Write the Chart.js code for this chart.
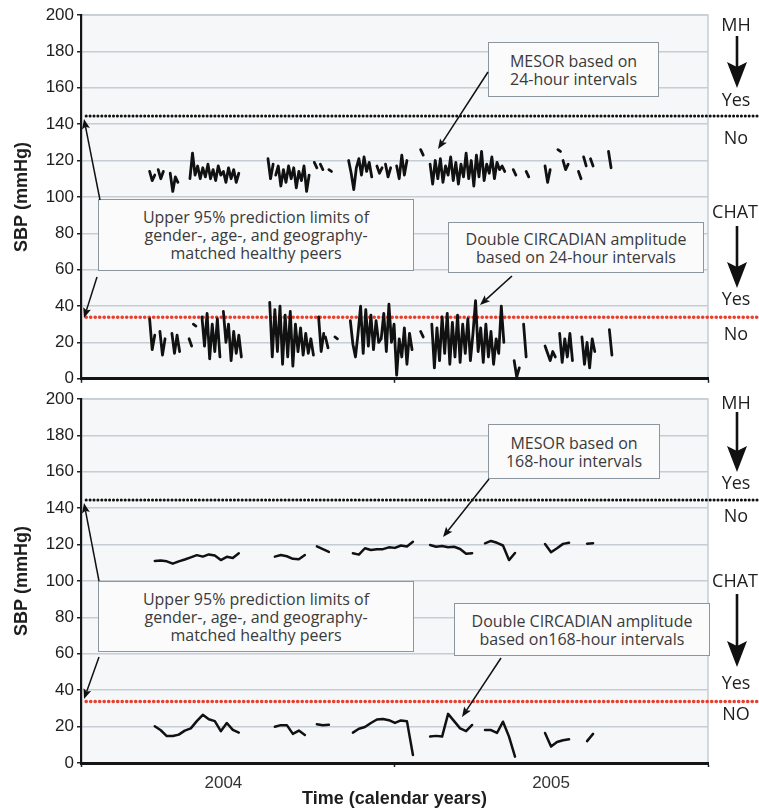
<!DOCTYPE html>
<html>
<head>
<meta charset="utf-8">
<title>SBP MESOR and circadian amplitude</title>
<script src="https://cdn.jsdelivr.net/npm/chart.js@4.4.1/dist/chart.umd.min.js"></script>
<style>
  body { margin: 0; background: #fff; font-family: "Open Sans", sans-serif; }
  #wrap { position: relative; width: 759px; height: 811px; overflow: hidden; }
  canvas { position: absolute; left: 0; }
  #topChart { top: 0; }
  #bottomChart { top: 385px; }
  .box { position: absolute; box-sizing: border-box; border: 1.5px solid #8b969f; background: #fbfbfb;
         color: #3a3a3a; font-size: 16px; line-height: 18px; text-align: center;
         display: flex; flex-direction: column; justify-content: center; }
  .tag { position: absolute; color: #1e1e1e; font-size: 18px; line-height: 1;
         transform: translate(-50%, -50%); white-space: nowrap; }
  #arrows { position: absolute; left: 0; top: 0; }
</style>
</head>
<body>
<div id="wrap">
  <canvas id="topChart" width="759" height="392"></canvas>
  <canvas id="bottomChart" width="759" height="426"></canvas>

  <div class="box" style="left:488px;top:42px;width:171px;height:55px">MESOR based on<br>24-hour intervals</div>
  <div class="box" style="left:98px;top:199px;width:316px;height:72px">Upper 95% prediction limits of<br>gender-, age-, and geography-<br>matched healthy peers</div>
  <div class="box" style="left:448px;top:222px;width:256px;height:51px">Double CIRCADIAN amplitude<br>based on 24-hour intervals</div>
  <div class="box" style="left:488px;top:424px;width:172px;height:55px">MESOR based on<br>168-hour intervals</div>
  <div class="box" style="left:98px;top:581px;width:316px;height:71px">Upper 95% prediction limits of<br>gender-, age-, and geography-<br>matched healthy peers</div>
  <div class="box" style="left:454px;top:603px;width:256px;height:53px">Double CIRCADIAN amplitude<br>based on168-hour intervals</div>

  <div class="tag" style="left:736px;top:24px">MH</div>
  <div class="tag" style="left:736px;top:99px">Yes</div>
  <div class="tag" style="left:736px;top:137px">No</div>
  <div class="tag" style="left:735px;top:211px">CHAT</div>
  <div class="tag" style="left:736px;top:298px">Yes</div>
  <div class="tag" style="left:736px;top:333px">No</div>
  <div class="tag" style="left:736px;top:402px">MH</div>
  <div class="tag" style="left:736px;top:482px">Yes</div>
  <div class="tag" style="left:736px;top:515px">No</div>
  <div class="tag" style="left:735px;top:580px">CHAT</div>
  <div class="tag" style="left:736px;top:682px">Yes</div>
  <div class="tag" style="left:736px;top:713px">NO</div>

  <svg id="arrows" width="759" height="811"></svg>
</div>
<script>
// x values are days counted from 1 Jan 2004 (2004 has 366 days)
const yearTicks = [166, 548];
const yearLabels = ["2004", "2005"];
const yearBounds = [0, 366, 731];

// upper 95% prediction limits (mmHg)
const mhLimit = 144.5;
const chatLimit = 33.8;
const limitSpan = [6, 790];

// 24-hour MESOR, sampled every 3 days: [first day, values]
const mesor24Runs = [
  [80, [114, 109, 112]],
  [90, [115, 110, 114]],
  [104, [113, 103, 111, 108]],
  [127, [110, 124, 112, 117, 110, 116, 111, 118, 110, 115, 109, 117, 112, 114, 108, 116, 110, 115, 108, 113]],
  [218, [121, 110, 118]],
  [227, [112, 117, 106, 115, 108, 117, 110, 116, 105, 114, 109, 117, 103, 112]],
  [272, [119, 116]],
  [279, [118, 115]],
  [289, [115, 114]],
  [312, [120, 113, 104, 116, 121, 112, 122, 114, 119, 111]],
  [345, [117, 113, 116]],
  [355, [118, 111, 116]],
  [368, [117, 110, 123, 112, 120]],
  [396, [126, 123]],
  [407, [118, 107, 120, 110, 121, 108, 117, 112, 122, 109, 119, 107, 118, 111, 124, 110, 120, 106, 123, 111, 125, 109, 118, 113, 122, 110, 119, 115, 117, 114]],
  [504, [115, 112]],
  [519, [114, 111]],
  [541, [117, 108, 115]],
  [556, [126, 125]],
  [562, [120, 115, 118]],
  [580, [114, 110]],
  [586, [122, 117]],
  [594, [121, 117]],
  [615, [125, 116]]
];

// 24-hour double circadian amplitude, every 3 days
const amp24Runs = [
  [80, [33, 16, 24]],
  [92, [26, 13, 22]],
  [106, [25, 14, 24, 15]],
  [126, [22, 18]],
  [131, [30, 29]],
  [141, [34, 18, 36, 11, 30, 15, 33, 12]],
  [166, [37, 20, 30, 10, 26, 14, 24, 12]],
  [220, [42, 12, 38, 15, 40, 8, 35, 12, 37, 7, 30, 15, 28, 13, 25, 14, 22, 13]],
  [277, [34, 15, 25]],
  [285, [23, 17]],
  [296, [23, 22]],
  [314, [32, 19, 12, 25, 40, 14, 38, 18, 35, 16, 32, 20, 22, 36, 15, 41, 20, 30, 2, 22, 12, 28, 8, 25, 16]],
  [396, [26, 23]],
  [409, [30, 6, 28, 10, 34, 14, 36, 8, 31, 12, 35, 9, 30, 14, 33, 10, 25, 43, 15, 28, 9, 30, 12, 26, 8, 22, 14, 40, 20]],
  [505, [10, 1, 6]],
  [516, [30, 12]],
  [541, [18, 14, 10, 15, 12]],
  [558, [25, 9, 22, 12, 25, 10]],
  [584, [23, 8, 20, 6, 22, 15]],
  [616, [27, 13]]
];

// 168-hour MESOR, weekly
const mesor168Runs = [
  [86, [111, 111.3, 110.8, 109.5, 110.8, 111.8, 113, 114.2, 113.4, 114.6, 114, 111.5, 113.3, 112.6, 115.2]],
  [226, [113.4, 114.3, 113.6, 112.2, 112, 114.3]],
  [275, [119, 117.5, 116]],
  [317, [115.2, 114.5, 118, 117, 117.5, 117.5, 118.5, 118.2, 119.5, 119, 121.5]],
  [407, [119.8, 118.8, 119.2, 118.5, 118.8, 117.6, 115, 115.3]],
  [471, [120.7, 122, 121, 119.5, 111.5, 115.4]],
  [541, [120.3, 115.8, 118, 120.4, 121]],
  [590, [120.5, 120.8]]
];

// 168-hour double circadian amplitude, weekly
const amp168Runs = [
  [86, [20.2, 18, 14.8, 14.8, 15.6, 17.8, 19, 23, 26.5, 24, 23, 17.5, 22, 18.2, 16.7]],
  [226, [19.9, 20.8, 20.8, 16, 17.8, 15.4]],
  [275, [21.3, 20.8, 21]],
  [317, [16.7, 18.8, 19.8, 22, 23.9, 24.2, 23.5, 22, 23.4, 23, 4.4]],
  [407, [14.5, 14.9, 14.5, 27, 23, 19, 17.5, 20.9]],
  [471, [18.1, 18.1, 16.5, 22.7, 14.5, 3.5]],
  [541, [16.5, 9, 11.5, 12.5, 13]],
  [590, [12, 16]]
];

function fromRuns(runs, step) {
  const pts = [];
  runs.forEach(([start, vals]) => {
    vals.forEach((v, i) => pts.push({ x: start + i * step, y: v }));
    pts.push({ x: start + vals.length * step - step / 2, y: null });
  });
  return pts;
}

function seriesLine(points, width) {
  return {
    data: points,
    borderColor: "#111",
    borderWidth: width,
    pointRadius: 0,
    spanGaps: false,
    tension: 0,
    borderJoinStyle: "round",
    borderCapStyle: "round",
  };
}

function limitLine(value, color, width, gap) {
  return {
    data: limitSpan.map((d) => ({ x: d, y: value })),
    borderColor: color,
    borderWidth: width,
    borderDash: [0.1, gap],
    borderCapStyle: "round",
    pointRadius: 0,
    clip: false,
  };
}

const plotFrame = {
  id: "plotFrame",
  beforeDraw(chart) {
    const { ctx, chartArea: a } = chart;
    ctx.save();
    ctx.fillStyle = "#f6f7f8";
    ctx.fillRect(a.left, a.top, a.right - a.left, a.bottom - a.top);
    ctx.strokeStyle = "#c6cdd4";
    ctx.lineWidth = 1.5;
    ctx.beginPath();
    ctx.moveTo(a.left, a.top);
    ctx.lineTo(a.right, a.top);
    ctx.lineTo(a.right, a.bottom);
    ctx.stroke();
    ctx.restore();
  },
};

function makeChart(id, datasets, showYears, xHeight, padTop) {
  const ctx = document.getElementById(id).getContext("2d");
  return new Chart(ctx, {
    type: "line",
    data: { datasets: datasets },
    plugins: [plotFrame],
    options: {
      responsive: false,
      animation: false,
      events: [],
      layout: { padding: { left: 0, right: 51, top: padTop, bottom: 0 } },
      plugins: { legend: { display: false }, tooltip: { enabled: false } },
      scales: {
        x: {
          type: "linear",
          min: 0,
          max: 731,
          afterBuildTicks: (s) => {
            s.ticks = yearBounds.concat(yearTicks).sort((a, b) => a - b).map((v) => ({ value: v }));
          },
          afterFit: (s) => { s.height = xHeight; },
          ticks: {
            autoSkip: false,
            maxRotation: 0,
            padding: 6,
            color: "#333",
            font: { size: 17 },
            callback: (v) => (showYears && yearTicks.includes(v) ? yearLabels[yearTicks.indexOf(v)] : ""),
          },
          grid: {
            drawOnChartArea: false,
            tickLength: 4,
            tickWidth: 1.5,
            tickColor: (c) => (c.tick && yearTicks.includes(c.tick.value) ? "rgba(0,0,0,0)" : "#222"),
          },
          border: { color: "#151515", width: 3 },
          title: {
            display: showYears,
            text: "Time (calendar years)",
            color: "#1e1e1e",
            font: { size: 18, weight: "bold" },
            padding: { top: 0, bottom: 1 },
          },
        },
        y: {
          min: 0,
          max: 200,
          afterFit: (s) => { s.width = 81; },
          ticks: { stepSize: 20, padding: 3, color: "#1e1e1e", font: { size: 17 } },
          grid: {
            color: (c) => (c.tick && c.tick.value === 0 ? "rgba(0,0,0,0)" : "#c6cdd4"),
            lineWidth: 1.5,
            tickLength: 4,
            tickWidth: 1.5,
            tickColor: "#222",
          },
          border: { color: "#151515", width: 2.2 },
          title: {
            display: true,
            text: "SBP (mmHg)",
            color: "#1e1e1e",
            font: { size: 18, weight: "bold" },
            padding: { top: 11, bottom: 0 },
          },
        },
      },
    },
  });
}

function drawArrow(svg, x1, y1, x2, y2, width, head, half, notch) {
  const ns = "http://www.w3.org/2000/svg";
  const len = Math.hypot(x2 - x1, y2 - y1);
  const ux = (x2 - x1) / len, uy = (y2 - y1) / len;
  const bx = x2 - ux * head, by = y2 - uy * head;
  const nx = bx + ux * notch, ny = by + uy * notch;
  const line = document.createElementNS(ns, "line");
  line.setAttribute("x1", x1);
  line.setAttribute("y1", y1);
  line.setAttribute("x2", nx);
  line.setAttribute("y2", ny);
  line.setAttribute("stroke", "#111");
  line.setAttribute("stroke-width", width);
  svg.appendChild(line);
  const tri = document.createElementNS(ns, "polygon");
  tri.setAttribute("points", [
    [x2, y2], [bx - uy * half, by + ux * half], [nx, ny], [bx + uy * half, by - ux * half],
  ].map((p) => p.join(",")).join(" "));
  tri.setAttribute("fill", "#111");
  svg.appendChild(tri);
}

document.addEventListener("DOMContentLoaded", () => {
  makeChart("topChart", [
    seriesLine(fromRuns(mesor24Runs, 3), 2.8),
    seriesLine(fromRuns(amp24Runs, 3), 2.8),
    limitLine(mhLimit, "#111", 3, 3.8),
    limitLine(chatLimit, "#e8402f", 3.6, 4.4),
  ], false, 11, 15);

  makeChart("bottomChart", [
    seriesLine(fromRuns(mesor168Runs, 7), 2.5),
    seriesLine(fromRuns(amp168Runs, 7), 2.5),
    limitLine(mhLimit, "#111", 3, 3.8),
    limitLine(chatLimit, "#e8402f", 3.6, 4.4),
  ], true, 48, 14);

  const svg = document.getElementById("arrows");
  // callout arrows
  [
    [488, 72, 438, 149], [100, 200, 84, 119], [97, 277, 84, 318], [512, 276, 480, 305],
    [489, 479, 443, 537], [99, 581, 84, 503], [99, 657, 84, 699], [501, 658, 462, 717],
  ].forEach(([a, b, c, d]) => drawArrow(svg, a, b, c, d, 1.5, 10, 4, 2));
  // Yes/No arrows on the right
  [[36, 88], [226, 288], [412, 472], [594, 667]].forEach(([y1, y2]) =>
    drawArrow(svg, 737, y1, 737, y2, 2.6, 26, 10, 5));
});
</script>
</body>
</html>
